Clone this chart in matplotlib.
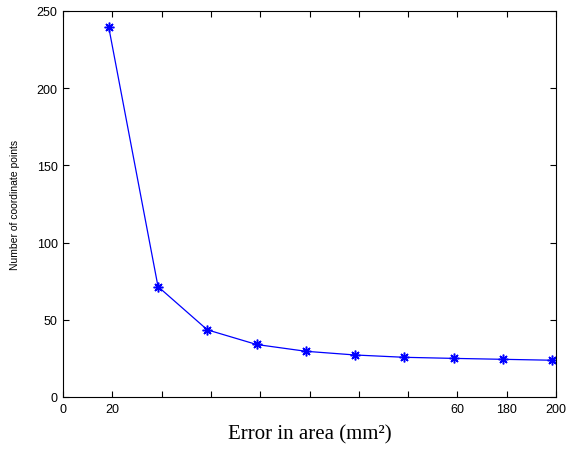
import matplotlib
matplotlib.use('Agg')
import matplotlib.pyplot as plt

# error in area (mm^2) vs number of coordinate points
err = [18.5, 38.5, 58.5, 78.5, 98.5, 118.5, 138.5, 158.5, 178.5, 198.5]
npts = [239.5, 71.5, 43.5, 34, 29.6, 27.2, 25.7, 25, 24.4, 23.8]

xticks = [0, 20, 40, 60, 80, 100, 120, 140, 160, 180, 200]
xticklabels = ['0', '20', '', '', '', '', '', '', '60', '180', '200']
yticks = [0, 50, 100, 150, 200, 250]

fig = plt.figure(figsize=(5.69, 4.52), dpi=100)
ax = fig.add_axes([0.111, 0.1195, 0.866, 0.854])

ax.plot(err, npts, color='#0000ff', lw=0.9, marker=(8, 2, 0), ms=7, mew=1.1,
        mec='#0000ff', mfc='#0000ff')

ax.set_xlim(0, 200)
ax.set_ylim(0, 250)
ax.set_xticks(xticks)
ax.set_xticklabels(xticklabels)
ax.set_yticks(yticks)
ax.tick_params(direction='in', top=True, right=True, length=4, width=0.8,
               labelsize=9, pad=4)
for lab in ax.get_xticklabels() + ax.get_yticklabels():
    lab.set_family('Liberation Sans')
for s in ax.spines.values():
    s.set_linewidth(0.8)

ax.set_xlabel('Error in area (mm\u00b2)', family='Liberation Serif', fontsize=15, labelpad=7)
ax.set_ylabel('Number of coordinate points', family='Liberation Sans', fontsize=7.5, labelpad=12)

fig.savefig('out.png', dpi=100)
